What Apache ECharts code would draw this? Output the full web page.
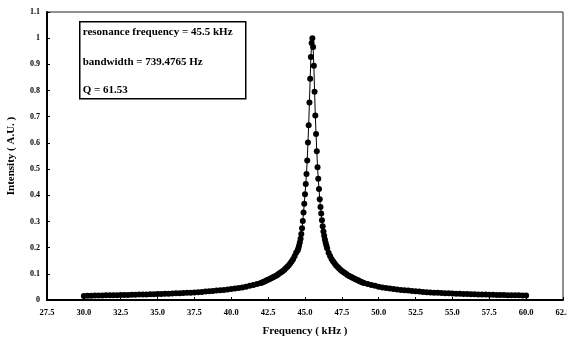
<!DOCTYPE html>
<html>
<head>
<meta charset="utf-8">
<script src="https://cdn.jsdelivr.net/npm/echarts@6/dist/echarts.min.js"></script>
<style>
  html, body { margin: 0; padding: 0; background: #fff; }
  #chart { width: 567px; height: 340px; }
</style>
</head>
<body>
<div id="chart"></div>
<script>
// frequency of each sample (kHz)
var freqKHz = [
  30.00, 30.25, 30.50, 30.75, 31.00, 31.25, 31.50, 31.75, 32.00, 32.25, 32.50, 32.75,
  33.00, 33.25, 33.50, 33.75, 34.00, 34.25, 34.50, 34.75, 35.00, 35.25, 35.50, 35.75,
  36.00, 36.25, 36.50, 36.75, 37.00, 37.25, 37.50, 37.75, 38.00, 38.25, 38.50, 38.75,
  39.00, 39.25, 39.50, 39.75, 40.00, 40.25, 40.50, 40.75, 41.00, 41.25, 41.50, 41.75, 42.00,
  42.1, 42.2, 42.3, 42.4, 42.5, 42.6, 42.7, 42.8, 42.9, 43.0, 43.1, 43.2,
  43.3, 43.4, 43.5, 43.6, 43.7, 43.8, 43.9, 44.0, 44.1, 44.2, 44.3, 44.4,
  44.50, 44.55, 44.60, 44.65, 44.70, 44.75, 44.80, 44.85, 44.90, 44.95, 45.00,
  45.05, 45.10, 45.15, 45.20, 45.25, 45.30, 45.35, 45.40, 45.45, 45.50,
  45.55, 45.60, 45.65, 45.70, 45.75, 45.80, 45.85, 45.90, 45.95, 46.00,
  46.05, 46.10, 46.15, 46.20, 46.25, 46.30, 46.35, 46.40, 46.45, 46.50,
  46.6, 46.7, 46.8, 46.9, 47.0, 47.1, 47.2, 47.3, 47.4, 47.5, 47.6, 47.7,
  47.8, 47.9, 48.0, 48.1, 48.2, 48.3, 48.4, 48.5, 48.6, 48.7, 48.8, 48.9,
  49.00, 49.25, 49.50, 49.75, 50.00, 50.25, 50.50, 50.75, 51.00, 51.25, 51.50, 51.75,
  52.00, 52.25, 52.50, 52.75, 53.00, 53.25, 53.50, 53.75, 54.00, 54.25, 54.50, 54.75,
  55.00, 55.25, 55.50, 55.75, 56.00, 56.25, 56.50, 56.75, 57.00, 57.25, 57.50, 57.75,
  58.00, 58.25, 58.50, 58.75, 59.00, 59.25, 59.50, 59.75, 60.00
];

// normalised intensity at each sample
var intensity = [
  0.015, 0.016, 0.016, 0.017, 0.017, 0.017, 0.018, 0.018, 0.018, 0.018, 0.019, 0.019,
  0.019, 0.020, 0.020, 0.021, 0.021, 0.021, 0.022, 0.022, 0.023, 0.023, 0.024, 0.024,
  0.025, 0.026, 0.026, 0.027, 0.028, 0.028, 0.029, 0.030, 0.031, 0.032, 0.033, 0.034,
  0.036, 0.037, 0.038, 0.040, 0.042, 0.044, 0.046, 0.048, 0.051, 0.054, 0.057, 0.061, 0.065,
  0.067, 0.070, 0.072, 0.075, 0.077, 0.080, 0.083, 0.086, 0.089, 0.092, 0.095, 0.099,
  0.103, 0.107, 0.111, 0.116, 0.121, 0.127, 0.133, 0.140, 0.148, 0.157, 0.168, 0.180,
  0.189, 0.198, 0.208, 0.220, 0.234, 0.252, 0.274, 0.302, 0.334, 0.368, 0.404,
  0.443, 0.481, 0.533, 0.602, 0.667, 0.754, 0.845, 0.928, 0.982, 1.000,
  0.966, 0.895, 0.795, 0.705, 0.634, 0.568, 0.507, 0.463, 0.424, 0.385,
  0.355, 0.330, 0.305, 0.282, 0.262, 0.245, 0.231, 0.219, 0.208, 0.198,
  0.180, 0.168, 0.157, 0.148, 0.140, 0.133, 0.127, 0.121, 0.116, 0.111, 0.107, 0.103,
  0.099, 0.095, 0.092, 0.089, 0.086, 0.083, 0.080, 0.077, 0.075, 0.072, 0.070, 0.067,
  0.065, 0.061, 0.057, 0.054, 0.051, 0.048, 0.046, 0.044, 0.042, 0.040, 0.038, 0.037,
  0.036, 0.034, 0.033, 0.032, 0.031, 0.030, 0.029, 0.028, 0.028, 0.027, 0.026, 0.026,
  0.025, 0.024, 0.024, 0.023, 0.023, 0.022, 0.022, 0.021, 0.021, 0.021, 0.020, 0.020,
  0.019, 0.019, 0.019, 0.018, 0.018, 0.018, 0.018, 0.017, 0.017
];

var infoLines = [
  'resonance frequency = 45.5 kHz',
  'bandwidth = 739.4765 Hz',
  'Q = 61.53'
];

var xName = 'Frequency ( kHz )';
var yName = 'Intensity ( A.U. )';

var serif = '"Liberation Serif", "DejaVu Serif", serif';

var points = [];
for (var i = 0; i < freqKHz.length; i++) {
  points.push([freqKHz[i], intensity[i]]);
}

var chart = echarts.init(document.getElementById('chart'), null, { renderer: 'canvas' });

chart.setOption({
  backgroundColor: '#fff',
  animation: false,
  grid: {
    left: 47,
    right: 4,
    top: 12,
    bottom: 40,
    outerBoundsMode: 'none',
    containLabel: false,
    show: true,
    borderColor: '#222',
    borderWidth: 1
  },
  xAxis: {
    type: 'value',
    min: 27.5,
    max: 62.5,
    interval: 2.5,
    name: xName,
    nameLocation: 'middle',
    nameGap: 26,
    nameTextStyle: { fontFamily: serif, fontWeight: 'bold', fontSize: 11, color: '#000' },
    axisLine: { show: true, onZero: false, lineStyle: { color: '#000', width: 2 } },
    axisTick: { show: true, inside: true, length: 3, lineStyle: { color: '#000' } },
    axisLabel: {
      margin: 8,
      fontFamily: serif,
      fontWeight: 'bold',
      fontSize: 8.5,
      color: '#000',
      hideOverlap: false,
      formatter: function (v) { return v.toFixed(1) }
    },
    splitLine: { show: false }
  },
  yAxis: {
    type: 'value',
    min: 0,
    max: 1.1,
    interval: 0.1,
    name: yName,
    nameLocation: 'middle',
    nameGap: 30,
    nameTextStyle: { fontFamily: serif, fontWeight: 'bold', fontSize: 11, color: '#000' },
    axisLine: { show: true, lineStyle: { color: '#000', width: 2 } },
    axisTick: { show: true, inside: true, length: 3, lineStyle: { color: '#000' } },
    axisLabel: {
      margin: 7,
      fontFamily: serif,
      fontWeight: 'bold',
      fontSize: 8,
      color: '#000',
      formatter: function (v) { return String(Math.round(v * 10) / 10) }
    },
    splitLine: { show: false }
  },
  graphic: [{
    type: 'group',
    left: 79,
    top: 21,
    children: [{
      type: 'rect',
      shape: { x: 0, y: 0, width: 166, height: 77 },
      style: { fill: '#fff', stroke: '#000', lineWidth: 1.5 }
    }, {
      type: 'text',
      x: 3, y: 10,
      style: { text: infoLines[0], font: 'bold 11px ' + serif, fill: '#000', verticalAlign: 'middle' }
    }, {
      type: 'text',
      x: 3, y: 40,
      style: { text: infoLines[1], font: 'bold 11px ' + serif, fill: '#000', verticalAlign: 'middle' }
    }, {
      type: 'text',
      x: 3, y: 68,
      style: { text: infoLines[2], font: 'bold 11px ' + serif, fill: '#000', verticalAlign: 'middle' }
    }]
  }],
  series: [{
    type: 'line',
    data: points,
    symbol: 'circle',
    symbolSize: 6,
    showSymbol: true,
    itemStyle: { color: '#000' },
    lineStyle: { color: '#000', width: 1 }
  }]
});
</script>
</body>
</html>
